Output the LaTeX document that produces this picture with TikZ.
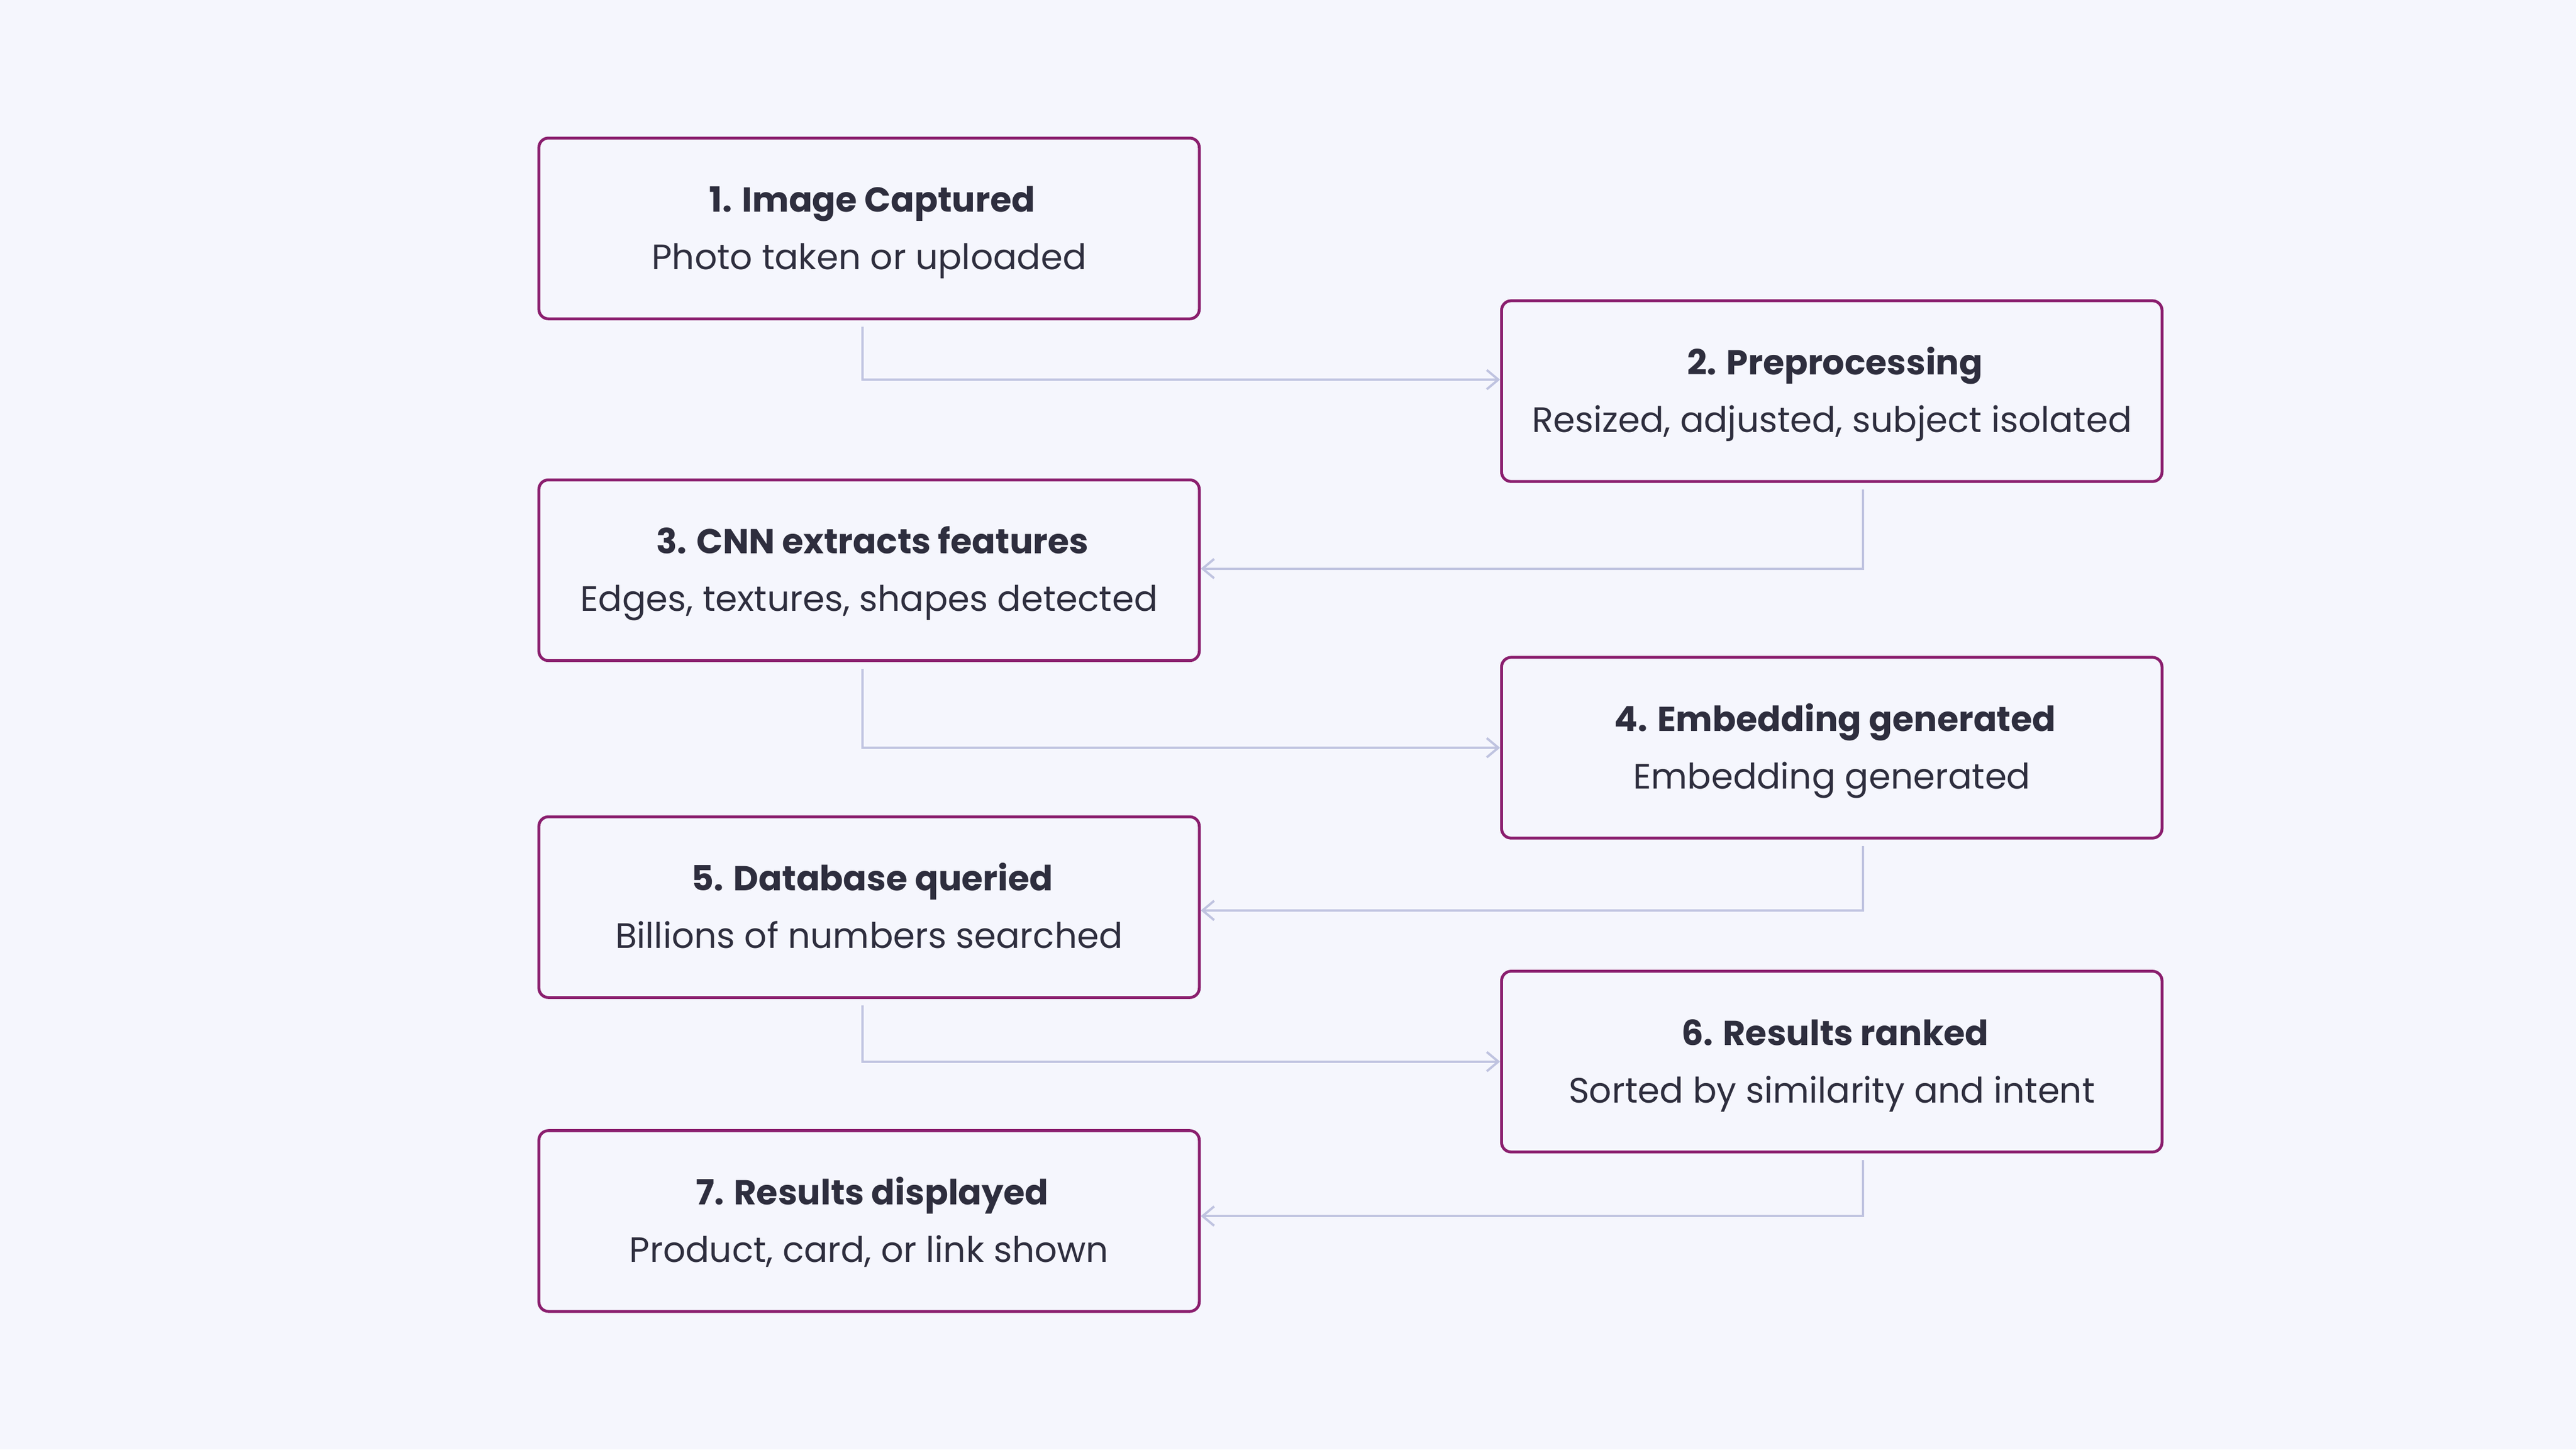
\documentclass[tikz,border=0pt]{standalone}
\usepackage{fontspec}
\setmainfont{Poppins}
\usetikzlibrary{arrows.meta}
\definecolor{bg}{HTML}{F5F6FD}
\definecolor{bord}{HTML}{8A1E6E}
\definecolor{conn}{HTML}{BFC3E0}
\definecolor{txt}{HTML}{2E2E3E}
\begin{document}
\begin{tikzpicture}[x=0.03cm,y=-0.03cm,
  box/.style={draw=bord,line width=1.5pt,rounded corners=5pt,fill=bg,minimum width=12.06cm,minimum height=3.3cm,text=txt},
  lbl/.style={text=txt,inner sep=0pt,anchor=base},
  conn/.style={draw=conn,line width=1.2pt,-{Straight Barb[length=6pt,width=10pt]}}]
\fill[bg] (0,0) rectangle (1568,882);
\useasboundingbox (0,0) rectangle (1568,882);
\newcommand{\bx}[5]{\node[box] (#1) at (#2,#3) {};
  \node[lbl,font=\fontsize{18}{22}\selectfont\bfseries] (#1t) at (#2+2,#3-10) {#4};
  \node[lbl,font=\fontsize{18.3}{22}\selectfont] (#1s) at (#2,#3+25) {#5};}
\bx{n1}{529}{139}{1. Image Captured}{Photo taken or uploaded}
\bx{n2}{1115}{238}{2. Preprocessing}{Resized, adjusted, subject isolated}
\bx{n3}{529}{347}{3. CNN extracts features}{Edges, textures, shapes detected}
\bx{n4}{1115}{455}{4. Embedding generated}{Embedding generated}
\bx{n5}{529}{552}{5. Database queried}{Billions of numbers searched}
\bx{n6}{1115}{646}{6. Results ranked}{Sorted by similarity and intent}
\bx{n7}{529}{743}{7. Results displayed}{Product, card, or link shown}
\draw[conn] ([xshift=-0.12cm,yshift=-0.12cm]n1.south) |- ([yshift=0.21cm]n2.west);
\draw[conn] ([xshift=0.57cm,yshift=-0.12cm]n2.south) |- ([yshift=0.03cm]n3.east);
\draw[conn] ([xshift=-0.12cm,yshift=-0.12cm]n3.south) |- (n4.west);
\draw[conn] ([xshift=0.57cm,yshift=-0.12cm]n4.south) |- ([yshift=-0.06cm]n5.east);
\draw[conn] ([xshift=-0.12cm,yshift=-0.12cm]n5.south) |- (n6.west);
\draw[conn] ([xshift=0.57cm,yshift=-0.12cm]n6.south) |- ([yshift=0.09cm]n7.east);
\end{tikzpicture}
\end{document}
